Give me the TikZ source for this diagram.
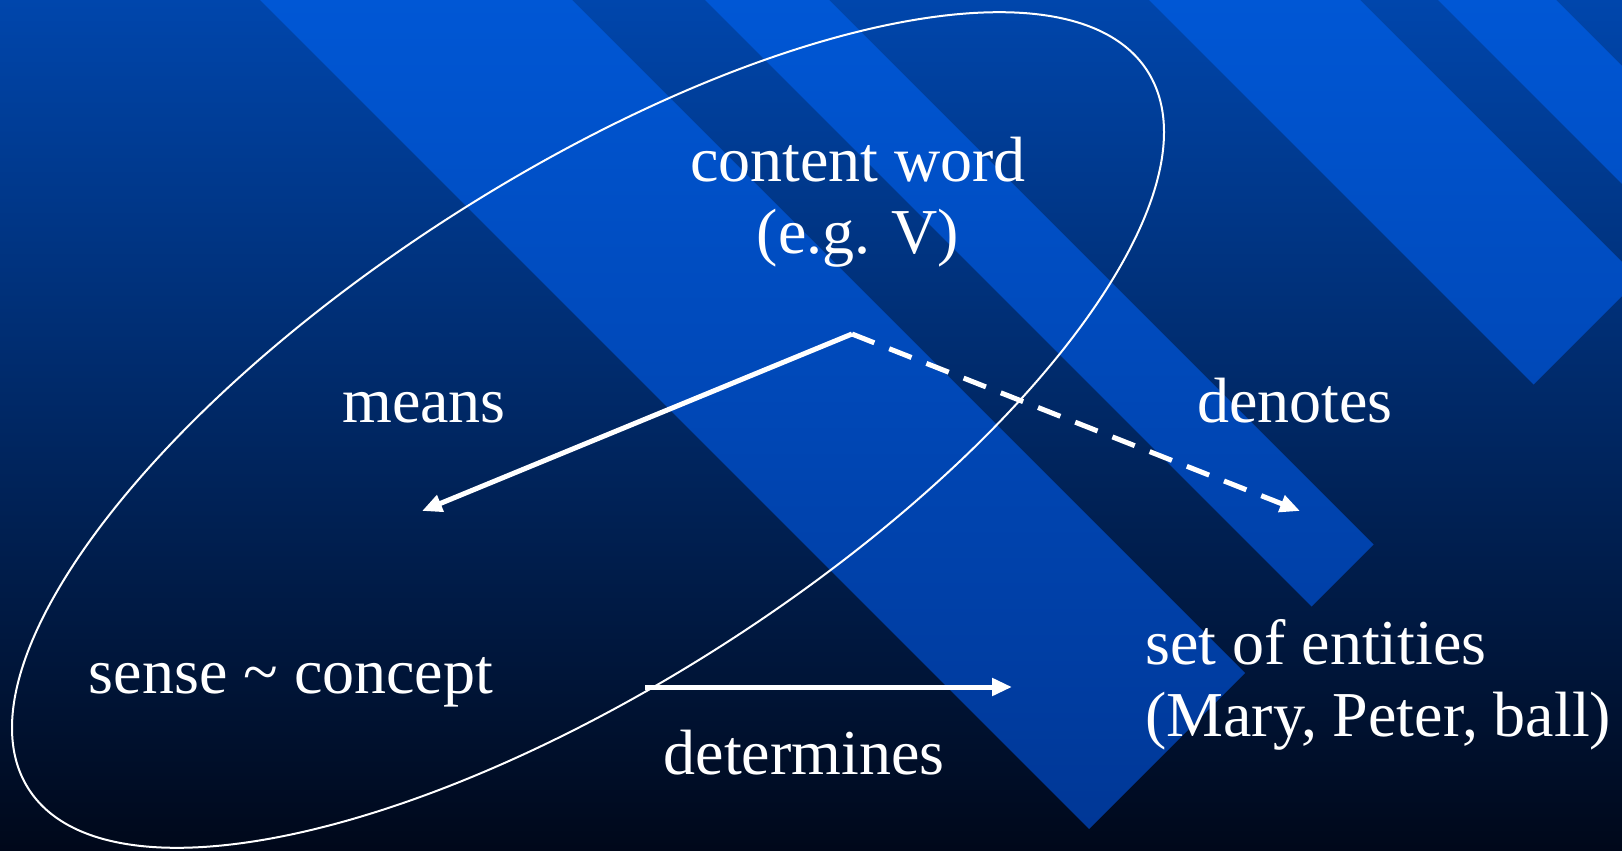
\documentclass[tikz,border=0pt]{standalone}
\usepackage{fontspec}
\setmainfont{Liberation Serif}
\usetikzlibrary{arrows.meta}
\definecolor{bgtop}{RGB}{0,70,172}
\definecolor{bgmid}{RGB}{0,42,108}
\definecolor{bgbot}{RGB}{0,8,26}
\definecolor{sttop}{RGB}{0,87,213}
\definecolor{stbot}{RGB}{0,55,150}
\begin{document}
\begin{tikzpicture}[x=1pt,y=-1pt,
  lbl/.style={text=white,font=\fontsize{64}{72}\selectfont,inner sep=0pt},
  arr/.style={draw=white,line width=5pt,-{Triangle[length=20pt,width=17pt]}},
  dasharr/.style={arr,dash pattern=on 24pt off 16pt},
  ring/.style={draw=white,line width=2pt}]
\useasboundingbox (0,0) rectangle (1622,851);
\shade[top color=bgtop,middle color=bgmid,bottom color=bgbot] (0,0) rectangle (1622,851);
\begin{scope}
\clip (0,0) rectangle (1622,851);
\shade[top color=sttop,bottom color=stbot]
  (260,0) -- (572,0) -- (1245,673) -- (1089,829) -- cycle
  (705,0) -- (829,0) -- (1373.5,544.5) -- (1311.5,606.5) -- cycle
  (1149,0) -- (1360,0) -- (1639,279) -- (1533.5,384.5) -- cycle
  (1438,0) -- (1556,0) -- (1737,181) -- (1678,240) -- cycle;
\end{scope}
\draw[ring,rotate around={32.7:(588,430)}] (588,430) ellipse [x radius=664.7,y radius=253.7];
\node[lbl,align=center,anchor=base] (cw) at (858,253) {content word\\(e.g. V)};
\node[lbl,anchor=base] (means) at (424,422) {means};
\node[lbl,anchor=base] (denotes) at (1295,422) {denotes};
\node[lbl,anchor=base] (sense) at (291,693) {sense \textasciitilde{} concept};
\node[lbl,anchor=base] (det) at (804,774) {determines};
\node[lbl,align=left,anchor=base west] (set) at (1145,736) {set of entities\\(Mary, Peter, ball)};
\coordinate (apex) at (852,334);
\coordinate (meansEnd) at (422,511);
\coordinate (denEnd) at (1300,511);
\coordinate (detStart) at (645,687);
\coordinate (detEnd) at (1012,687);
\draw[arr] (apex) -- (meansEnd);
\draw[dasharr] (apex) -- (denEnd);
\draw[arr] (detStart) -- (detEnd);
\end{tikzpicture}
\end{document}
